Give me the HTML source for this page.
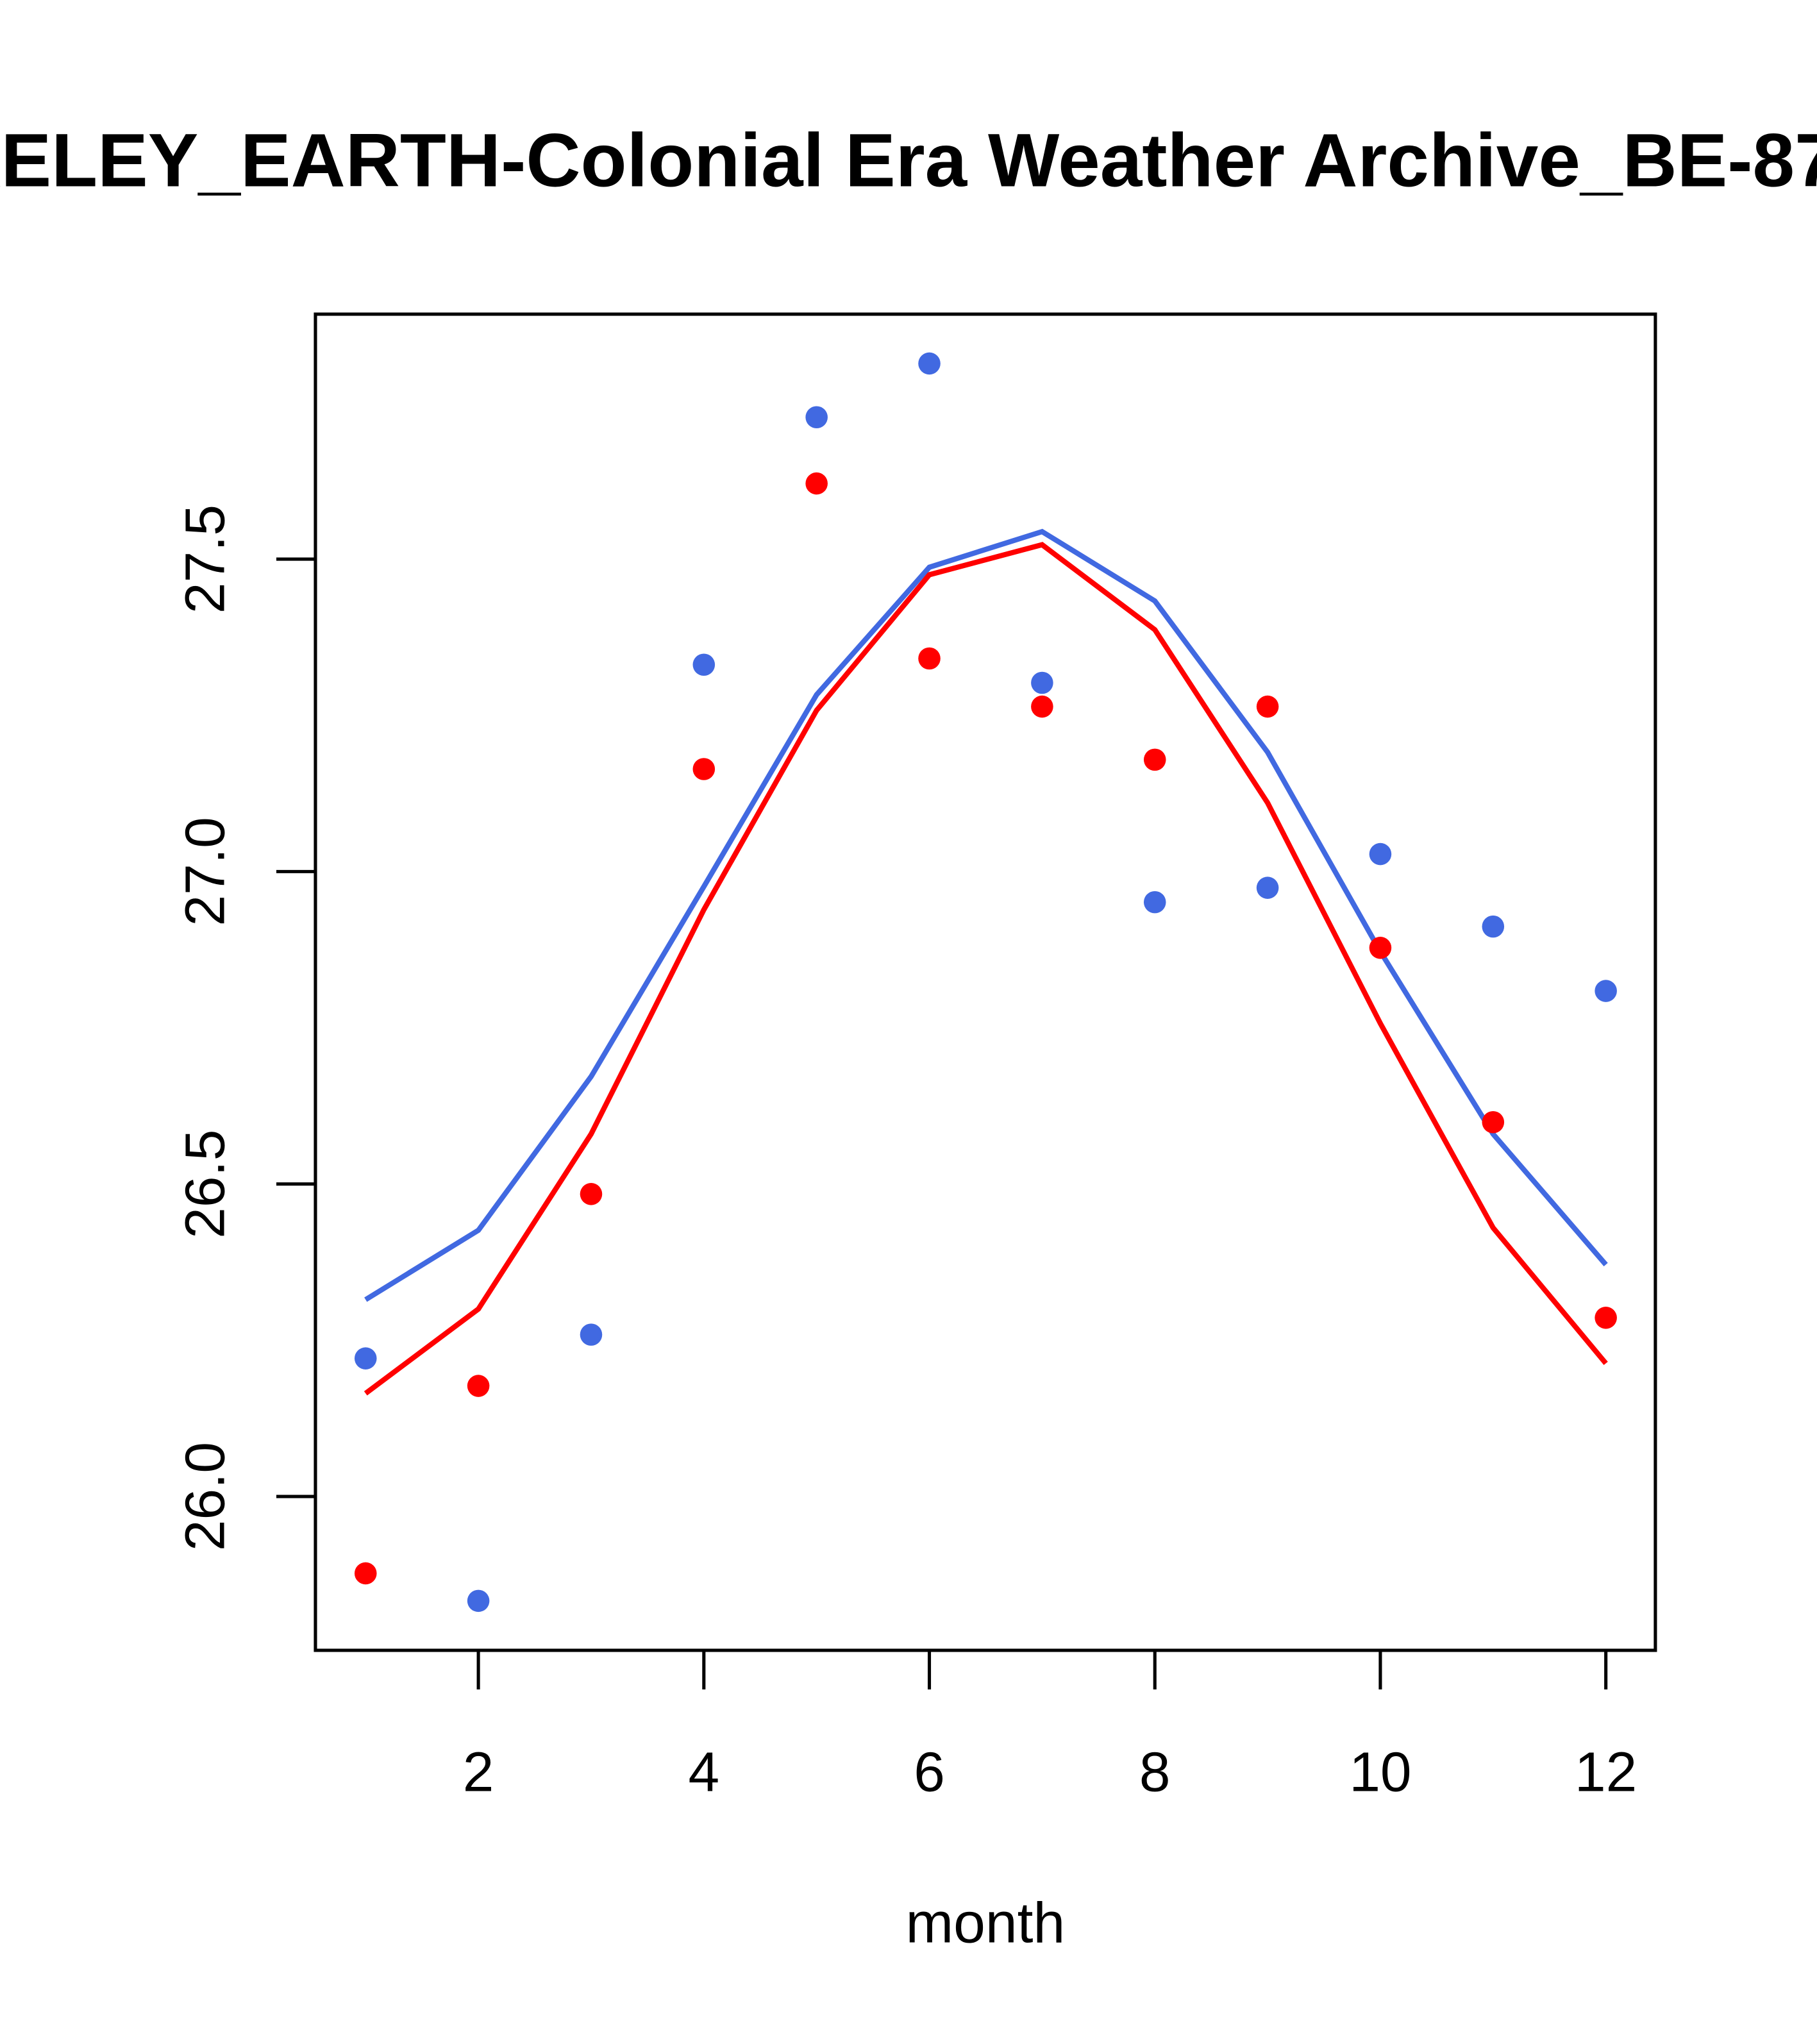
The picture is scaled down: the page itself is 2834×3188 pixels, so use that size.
<!DOCTYPE html>
<html><head><meta charset="utf-8"><style>
html,body{margin:0;padding:0;background:#fff;overflow:hidden}
svg{display:block}
text{font-family:"Liberation Sans",Arial,sans-serif}
</style></head><body>
<svg id="chart" width="2834" height="3188" viewBox="0 0 1394 1568" preserveAspectRatio="none" xmlns="http://www.w3.org/2000/svg">
<text x="655" y="143" text-anchor="middle" font-size="58" font-weight="bold">BERKELEY_EARTH-Colonial Era Weather Archive_BE-8754</text>
<rect x="242" y="241" width="1028" height="1025" fill="none" stroke="#000" stroke-width="2.5"/>
<g id="xaxis"></g>
<g id="yaxis"></g>
<g id="marks"></g>
<text x="756" y="1490" text-anchor="middle" font-size="44">month</text>
</svg>
<script>
const months=[1,2,3,4,5,6,7,8,9,10,11,12];
const bluePoints=[26.221,25.833,26.259,27.331,27.727,27.813,27.302,26.951,26.974,27.028,26.912,26.809];
const redPoints=[25.877,26.177,26.484,27.164,27.621,27.341,27.264,27.179,27.264,26.878,26.599,26.286];
const blueLine=[26.315,26.426,26.672,26.976,27.283,27.487,27.544,27.433,27.191,26.872,26.580,26.371];
const redLine=[26.165,26.300,26.580,26.939,27.258,27.475,27.523,27.387,27.110,26.757,26.430,26.213];
const xTicks=[2,4,6,8,10,12];
const yTicks=[26.0,26.5,27.0,27.5];
const yTickLabels=["26.0","26.5","27.0","27.5"];

const NS="http://www.w3.org/2000/svg";
function xs(m){return 367+(m-2)*86.5;}
function ys(v){return 1148-(v-26)*479.4;}
function mk(tag,attrs,parent){const e=document.createElementNS(NS,tag);for(const k in attrs)e.setAttribute(k,attrs[k]);parent.appendChild(e);return e;}

const xa=document.getElementById('xaxis');
xTicks.forEach((t,i)=>{
  const l=mk('line',{x1:xs(t),x2:xs(t),y1:1266,y2:1296,stroke:'#000','stroke-width':2.5},xa);
  
  
  const tx=mk('text',{x:xs(t),y:1374,'text-anchor':'middle','font-size':43},xa);
  tx.textContent=t;
  
  
});
const ya=document.getElementById('yaxis');
yTicks.forEach((t,i)=>{
  const y=ys(t);
  const l=mk('line',{x1:212,x2:242,y1:y,y2:y,stroke:'#000','stroke-width':2.5},ya);
  
  
  const tx=mk('text',{x:172,y:y,'text-anchor':'middle','font-size':43,transform:`rotate(-90 172 ${y})`},ya);
  tx.textContent=yTickLabels[i];
  
  
});
const g=document.getElementById('marks');
function line(vals,color,name){
  const p=mk('polyline',{points:vals.map((v,i)=>xs(months[i])+','+ys(v)).join(' '),fill:'none',stroke:color,'stroke-width':4},g);
  
  
}
function pts(vals,color,name){
  vals.forEach((v,i)=>{
    const c=mk('circle',{cx:xs(months[i]),cy:ys(v),r:8.5,fill:color},g);
    
    
  });
}
line(blueLine,'#4169E1','blue-fit-line');
line(redLine,'#FF0000','red-fit-line');
pts(bluePoints,'#4169E1','blue-point');
pts(redPoints,'#FF0000','red-point');
</script>
</body></html>
